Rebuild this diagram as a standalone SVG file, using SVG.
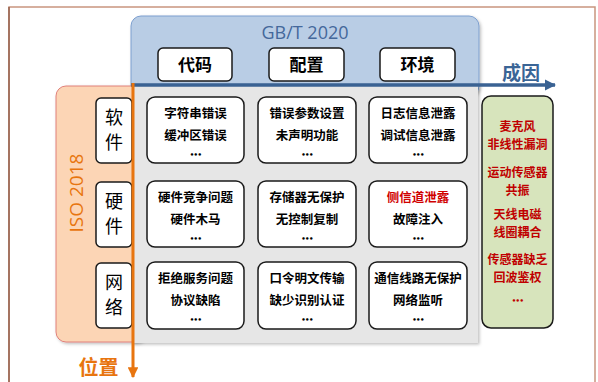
<svg xmlns="http://www.w3.org/2000/svg" width="598" height="382" viewBox="0 0 598 382">
<defs>
<filter id="sh" x="-10%" y="-10%" width="125%" height="125%">
<feDropShadow dx="1.5" dy="1.5" stdDeviation="1.5" flood-color="#000" flood-opacity="0.25"/>
</filter>
<marker id="ab" viewBox="0 0 10 10" refX="9" refY="5" markerWidth="3.2" markerHeight="3.2" orient="auto" markerUnits="strokeWidth"><path d="M0,0 L10,5 L0,10 Z" fill="#3a6293"/></marker>
<marker id="ao" viewBox="0 0 10 10" refX="9" refY="5" markerWidth="3.6" markerHeight="3.6" orient="auto" markerUnits="strokeWidth"><path d="M0,0 L10,5 L0,10 Z" fill="#e8750f"/></marker>
</defs>
<style>
.cell{fill:#fff;stroke:#1a1a1a;stroke-width:1.5}
.ct{font-family:"Noto Sans CJK SC",sans-serif;font-size:12.5px;font-weight:bold;fill:#000;text-anchor:middle}
.dt{font-family:"DejaVu Sans",sans-serif;font-size:7px;font-weight:bold;fill:#000;text-anchor:middle;letter-spacing:-0.6px}
.hd{font-family:"Noto Sans CJK SC",sans-serif;font-size:17px;font-weight:bold;fill:#000;text-anchor:middle}
.rl{font-family:"Noto Sans CJK SC",sans-serif;font-size:18px;fill:#000;text-anchor:middle}
.gt{font-family:"Noto Sans CJK SC",sans-serif;font-size:12px;font-weight:bold;fill:#c00000;text-anchor:middle}
.red{fill:#d00000}
</style>
<path d="M9,382 V7 H595 V382" fill="none" stroke="#c9957f" stroke-width="1.5"/>
<path d="M9,382 V7" fill="none" stroke="#95604c" stroke-width="1.5"/>

<g id="gbt-panel">
<rect x="131" y="16" width="348" height="80" rx="10" fill="#b9cde5" stroke="#7c9fcf" stroke-width="1" filter="url(#sh)"/>
<text x="305" y="39" font-family="Open Sans, Liberation Sans, sans-serif" font-size="18" fill="#44689b" text-anchor="middle">GB/T 2020</text>
</g>
<g id="iso-panel">
<rect x="56" y="86" width="90" height="256" rx="10" fill="#fcd5b5" stroke="#e0807a" stroke-width="1" filter="url(#sh)"/>
<text transform="translate(83,193) rotate(-90)" font-family="Open Sans, Liberation Sans, sans-serif" font-size="19" fill="#e8750f" text-anchor="middle">ISO 2018</text>
</g>
<g id="grid-panel">
<rect x="132" y="84" width="346" height="259" fill="#e6e6e6" filter="url(#sh)"/>
</g>

<g id="h-code"><rect x="158" y="48" width="74" height="33" rx="5" class="cell"/><text x="195" y="71" class="hd">代码</text></g>
<g id="h-config"><rect x="269" y="48" width="75" height="33" rx="5" class="cell"/><text x="306.5" y="71" class="hd">配置</text></g>
<g id="h-env"><rect x="380" y="48" width="75" height="33" rx="5" class="cell"/><text x="417.5" y="71" class="hd">环境</text></g>

<g id="r-soft"><rect x="96" y="98" width="36" height="65" rx="5" class="cell"/><text x="114" y="124" class="rl">软</text><text x="114" y="149" class="rl">件</text></g>
<g id="r-hard"><rect x="96" y="182" width="36" height="65" rx="5" class="cell"/><text x="114" y="208" class="rl">硬</text><text x="114" y="233" class="rl">件</text></g>
<g id="r-net"><rect x="96" y="263" width="36" height="65" rx="5" class="cell"/><text x="114" y="289" class="rl">网</text><text x="114" y="314" class="rl">络</text></g>

<g id="c11"><rect x="147" y="97" width="97" height="66" rx="8" class="cell"/><text x="195.5" y="118" class="ct">字符串错误</text><text x="195.5" y="140" class="ct">缓冲区错误</text><text x="195.5" y="157" class="dt">•••</text></g>
<g id="c12"><rect x="258" y="97" width="98" height="66" rx="8" class="cell"/><text x="307" y="118" class="ct">错误参数设置</text><text x="307" y="140" class="ct">未声明功能</text><text x="307" y="157" class="dt">•••</text></g>
<g id="c13"><rect x="369" y="97" width="98" height="66" rx="8" class="cell"/><text x="418" y="118" class="ct">日志信息泄露</text><text x="418" y="140" class="ct">调试信息泄露</text><text x="418" y="157" class="dt">•••</text></g>

<g id="c21"><rect x="147" y="181" width="97" height="66" rx="8" class="cell"/><text x="195.5" y="202" class="ct">硬件竞争问题</text><text x="195.5" y="224" class="ct">硬件木马</text><text x="195.5" y="241" class="dt">•••</text></g>
<g id="c22"><rect x="258" y="181" width="98" height="66" rx="8" class="cell"/><text x="307" y="202" class="ct">存储器无保护</text><text x="307" y="224" class="ct">无控制复制</text><text x="307" y="241" class="dt">•••</text></g>
<g id="c23"><rect x="369" y="181" width="98" height="66" rx="8" class="cell"/><text x="418" y="202" class="ct red">侧信道泄露</text><text x="418" y="224" class="ct">故障注入</text><text x="418" y="241" class="dt">•••</text></g>

<g id="c31"><rect x="147" y="262" width="97" height="67" rx="8" class="cell"/><text x="195.5" y="283" class="ct">拒绝服务问题</text><text x="195.5" y="305" class="ct">协议缺陷</text><text x="195.5" y="322" class="dt">•••</text></g>
<g id="c32"><rect x="258" y="262" width="98" height="67" rx="8" class="cell"/><text x="307" y="283" class="ct">口令明文传输</text><text x="307" y="305" class="ct">缺少识别认证</text><text x="307" y="322" class="dt">•••</text></g>
<g id="c33"><rect x="369" y="262" width="98" height="67" rx="8" class="cell"/><text x="418" y="283" class="ct">通信线路无保护</text><text x="418" y="305" class="ct">网络监听</text><text x="418" y="322" class="dt">•••</text></g>

<g id="sensor-box">
<rect x="482" y="96" width="71" height="232" rx="9" fill="#d7e4bc" stroke="#1a1a1a" stroke-width="1.5"/>
<text x="517.5" y="131" class="gt">麦克风</text>
<text x="517.5" y="149" class="gt">非线性漏洞</text>
<text x="517.5" y="177" class="gt">运动传感器</text>
<text x="517.5" y="195" class="gt">共振</text>
<text x="517.5" y="219" class="gt">天线电磁</text>
<text x="517.5" y="237" class="gt">线圈耦合</text>
<text x="517.5" y="264" class="gt">传感器缺乏</text>
<text x="517.5" y="282" class="gt">回波鉴权</text>
<text x="517.5" y="303" class="dt" style="fill:#c00000">•••</text>
</g>

<g id="connectors">
<line x1="131" y1="85" x2="555" y2="85" stroke="#3a6293" stroke-width="3.5" marker-end="url(#ab)"/>
<line x1="133" y1="83" x2="133" y2="377" stroke="#e8750f" stroke-width="3" marker-end="url(#ao)"/>
</g>
<text x="521" y="80" font-family="Noto Sans CJK SC, sans-serif" font-size="19" font-weight="bold" fill="#3a6596" text-anchor="middle">成因</text>
<text x="98.5" y="375" font-family="Noto Sans CJK SC, sans-serif" font-size="20" font-weight="bold" fill="#e8750f" text-anchor="middle">位置</text>
</svg>
